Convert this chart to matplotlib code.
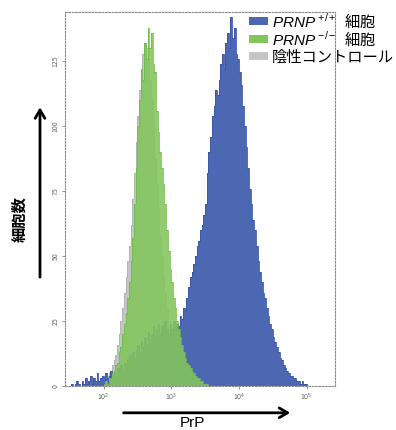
import numpy as np
import matplotlib
matplotlib.use("Agg")
from matplotlib import pyplot as plt
from matplotlib.patches import Patch

plt.rcParams['font.family'] = ['Noto Sans CJK JP', 'DejaVu Sans']
plt.rcParams['mathtext.fontset'] = 'custom'
plt.rcParams['mathtext.rm'] = 'Liberation Sans'
plt.rcParams['mathtext.it'] = 'Liberation Sans:italic'

# histogram bins: log10(PrP) bin width
BIN_W = 0.025

# PRNP +/+ cells, bins from 10^1.5
BLUE_START = 1.5
BLUE_COUNTS = [
    0, 1, 0, 1, 2, 1, 0, 2, 1, 3,
    1, 2, 4, 1, 3, 2, 5, 2, 3, 4,
    2, 5, 3, 4, 6, 3, 5, 4, 7, 6,
    8, 6, 9, 7, 10, 12, 9, 13, 11, 14,
    16, 13, 17, 15, 19, 16, 21, 18, 20, 23,
    19, 22, 24, 20, 23, 21, 25, 22, 20, 24,
    22, 25, 21, 24, 23, 27, 26, 30, 29, 34,
    38, 42, 44, 47, 50, 54, 56, 60, 62, 66,
    70, 82, 90, 96, 104, 108, 114, 112, 118, 124,
    128, 122, 132, 136, 130, 142, 134, 138, 128, 126,
    121, 116, 108, 100, 92, 84, 76, 70, 64, 60,
    54, 48, 44, 40, 36, 34, 30, 27, 24, 22,
    19, 17, 15, 13, 11, 10, 8, 7, 6, 5,
    4, 4, 3, 3, 2, 2, 1, 2, 1, 1,
]

# PRNP -/- cells, bins from 10^2.0
GREEN_START = 2.0
GREEN_COUNTS = [
    1, 2, 1, 3, 3, 5, 6, 8, 9, 13,
    15, 20, 24, 28, 34, 40, 48, 57, 70, 84,
    100, 110, 122, 118, 132, 126, 138, 130, 136, 124,
    121, 106, 98, 90, 84, 78, 70, 60, 52, 45,
    40, 34, 30, 25, 22, 19, 16, 13, 11, 9,
    8, 7, 6, 5, 4, 3, 3, 2, 2, 1,
    1, 1,
]

# negative control, bins from 10^1.9
GREY_START = 1.9
GREY_COUNTS = [
    0, 1, 1, 2, 2, 3, 4, 5, 6, 8,
    10, 12, 16, 20, 25, 30, 36, 42, 48, 54,
    62, 72, 82, 94, 104, 114, 122, 128, 132, 130,
    126, 118, 110, 100, 88, 78, 68, 58, 50, 42,
    36, 30, 25, 20, 16, 13, 10, 8, 6, 5,
    4, 3, 3, 2, 2, 1, 1, 1, 0, 0,
]

LABELS = [r'$\it{PRNP}$ $^{+/+}$  細胞', r'$\it{PRNP}$ $^{-/-}$  細胞', '陰性コントロール']
COLORS = ['#4d68b2', '#84c55c', '#c4c6c6']
EDGES = ['#3a55a8', '#6cb848', '#b0b2b2']

YTICKS = [0, 25, 50, 75, 100, 125]
XTICKS = [1e2, 1e3, 1e4, 1e5]
XTICKLABELS = ['$10^2$', '$10^3$', '$10^4$', '$10^5$']


def edges_for(start, counts):
    return 10 ** (start + BIN_W * np.arange(len(counts) + 1))


fig = plt.figure(figsize=(3.96, 4.30), dpi=100)
ax = fig.add_axes([0.164, 0.102, 0.682, 0.870])

series = [
    (GREY_START, GREY_COUNTS, COLORS[2], EDGES[2], 1.0),
    (BLUE_START, BLUE_COUNTS, COLORS[0], EDGES[0], 1.0),
    (GREEN_START, GREEN_COUNTS, COLORS[1], EDGES[1], 0.88),
]
for start, counts, col, ecol, a in series:
    e = edges_for(start, counts)
    ax.stairs(counts, e, fill=True, color=col, alpha=a, lw=0)
    ax.stairs(counts, e, color=ecol, lw=0.6, alpha=a)

ax.set_xscale('log')
ax.set_xlim(10 ** 1.43, 10 ** 5.42)
ax.set_ylim(0, 144)
ax.set_xticks(XTICKS)
ax.set_xticklabels(XTICKLABELS)
ax.set_yticks(YTICKS)
ax.set_yticklabels([str(v) for v in YTICKS], rotation=90, va='center')
ax.xaxis.set_minor_locator(matplotlib.ticker.NullLocator())
ax.tick_params(labelsize=5, colors='#666666', length=2, width=0.5, pad=2)

for s in ax.spines.values():
    s.set_linestyle((0, (1.5, 1.5)))
    s.set_color('#8a8a8a')
    s.set_linewidth(0.8)

handles = [Patch(facecolor=c, edgecolor='none') for c in COLORS]
fig.legend(handles, LABELS, loc='upper left', bbox_to_anchor=(0.628, 0.972),
           frameon=False, fontsize=11, handlelength=1.25, handleheight=0.45,
           handletextpad=0.25, labelspacing=0.0, borderaxespad=0,
           borderpad=0)

# y-axis label with arrow
fig.text(0.048, 0.49, '細胞数', rotation=90, ha='center', va='center',
         fontsize=11, fontweight='bold')
ax.annotate('', xy=(0.101, 0.757), xytext=(0.101, 0.349),
            xycoords='figure fraction', textcoords='figure fraction',
            arrowprops=dict(arrowstyle='->, head_length=0.6, head_width=0.35',
                            color='black', lw=2))

# x-axis label with arrow
ax.annotate('', xy=(0.74, 0.040), xytext=(0.305, 0.040),
            xycoords='figure fraction', textcoords='figure fraction',
            arrowprops=dict(arrowstyle='->, head_length=0.6, head_width=0.35',
                            color='black', lw=2))
fig.text(0.485, 0.0, 'PrP', ha='center', va='bottom', fontsize=11,
         family=['Liberation Sans', 'DejaVu Sans'])

fig.savefig('out.png', dpi=100)
